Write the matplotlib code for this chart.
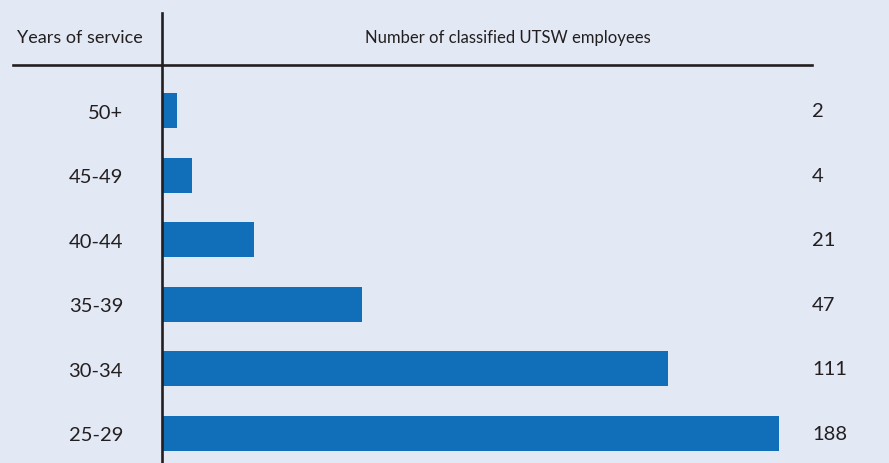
import matplotlib
matplotlib.use('Agg')
import matplotlib.pyplot as plt
from matplotlib.lines import Line2D

categories = ['50+', '45-49', '40-44', '35-39', '30-34', '25-29']
employees = [2, 4, 21, 47, 111, 188]
# drawn bar lengths (not proportional to the counts)
bar_len = [15, 30, 92, 200, 506, 617]

bg = '#e2e8f4'
bar_color = '#116eb9'
ink = '#231f20'
W, H = 889, 464

plt.rcParams['font.family'] = ['Lato', 'DejaVu Sans']

fig = plt.figure(figsize=(W / 100, H / 100), dpi=100, facecolor=bg)
ax = fig.add_axes([162 / W, 0, 1 - 162 / W, (H - 67) / H])
ax.set_facecolor(bg)

pos = list(range(len(categories)))
ax.barh(pos, bar_len, height=0.54, color=bar_color)
ax.set_xlim(0, W - 162)
ax.set_ylim(5.457, -0.689)

ax.set_yticks(pos)
ax.set_yticklabels(categories, fontsize=14.5, color=ink)
ax.tick_params(axis='y', length=0, pad=28)
ax.set_xticks([])
for s in ax.spines.values():
    s.set_visible(False)

for i, v in zip(pos, employees):
    ax.text(812 - 162, i, str(v), va='center', ha='left', fontsize=14.5, color=ink)

# header rules
fig.add_artist(Line2D([162 / W, 162 / W], [0, 1 - 14 / H], color=ink, lw=1.9))
fig.add_artist(Line2D([13 / W, 812 / W], [1 - 66 / H, 1 - 66 / H], color=ink, lw=1.9))

fig.text(80 / W, 1 - 38 / H, 'Years of service', ha='center', va='center',
         fontsize=13, color=ink)
fig.text(508 / W, 1 - 38 / H, 'Number of classified UTSW employees', ha='center',
         va='center', fontsize=12, color=ink)

fig.savefig('out.png', dpi=100, facecolor=bg)
